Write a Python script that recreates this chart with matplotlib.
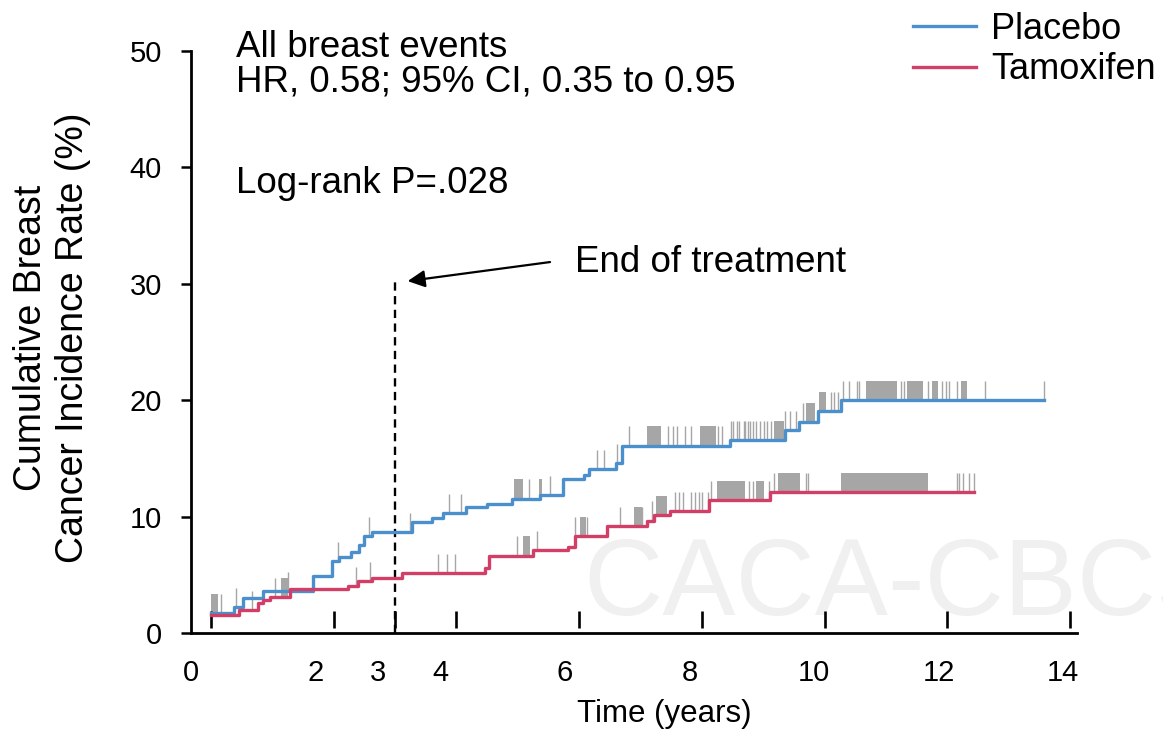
import numpy as np
import matplotlib
matplotlib.use('Agg')
import matplotlib.pyplot as plt
from matplotlib.lines import Line2D

plt.rcParams['font.family'] = ['Liberation Sans', 'DejaVu Sans']

# step curves (time in years, cumulative incidence in %)
placebo_t = [0, 0.37, 0.52, 0.84, 1.66, 1.97, 2.08, 2.28, 2.41, 2.49, 2.62, 3.27, 3.60,
             3.78, 4.16, 4.49, 4.90, 5.36, 5.74, 6.08, 6.16, 6.60, 6.69, 8.45, 9.36,
             9.58, 9.89, 10.27]
placebo_y = [1.7, 2.2, 3.0, 3.6, 4.9, 6.2, 6.5, 7.0, 7.6, 8.3, 8.7, 9.55, 9.85,
             10.3, 10.85, 11.05, 11.55, 11.85, 13.2, 13.6, 14.05, 14.6, 16.1, 16.6, 17.45,
             18.15, 19.05, 20.0]
placebo_end = 13.58

tamox_t = [0, 0.46, 0.76, 0.85, 0.96, 1.29, 2.23, 2.39, 2.63, 3.12, 4.46, 4.53, 5.25,
           5.81, 5.93, 6.46, 7.11, 7.22, 7.48, 8.12, 9.11]
tamox_y = [1.55, 2.0, 2.55, 2.8, 3.1, 3.8, 4.05, 4.45, 4.75, 5.15, 5.55, 6.65, 7.15,
           7.4, 8.3, 9.15, 9.65, 10.1, 10.45, 11.45, 12.1]
tamox_end = 12.43

# censoring marks: single ticks and dense clusters (start, end)
placebo_cens = [0.17, 0.40, 1.26, 2.07, 2.58, 3.24, 3.88, 4.08, 5.18, 5.52, 6.29, 6.40,
                6.61, 6.82, 7.45, 7.53, 7.59, 7.72, 7.83, 8.26, 8.32, 8.47, 8.51, 8.57,
                8.61, 8.68, 8.71, 8.75, 8.78, 8.83, 8.88, 8.94, 9.01, 9.06, 9.12, 9.36,
                9.43, 9.53, 9.64, 10.11, 10.16, 10.22, 10.30, 10.40, 10.52, 10.56, 11.24,
                11.30, 11.69, 11.92, 11.98, 12.03, 12.15, 12.61, 13.58]
placebo_blocks = [(0.0, 0.12), (4.93, 5.08), (5.34, 5.40), (7.10, 7.33), (7.97, 8.23),
                  (9.18, 9.34), (9.70, 9.84), (9.91, 10.02), (10.67, 11.18),
                  (11.34, 11.61), (11.75, 11.84), (12.23, 12.32)]
tamox_cens = [0.66, 1.04, 2.36, 2.59, 3.70, 3.84, 3.97, 4.99, 5.32, 5.93, 6.12, 6.67,
              7.03, 7.18, 7.56, 7.63, 7.70, 7.83, 7.89, 7.95, 8.00, 8.10, 8.15, 8.76,
              8.83, 9.10, 9.17, 9.69, 9.73, 12.15, 12.19, 12.26, 12.35, 12.44]
tamox_blocks = [(1.14, 1.26), (5.09, 5.20), (6.02, 6.11), (6.90, 7.02), (7.25, 7.43),
                (8.24, 8.70), (8.88, 9.01), (9.24, 9.60), (10.27, 11.69)]

xtick_vals = [0, 2, 3, 4, 6, 8, 10, 12, 14]
ytick_vals = [0, 10, 20, 30, 40, 50]
treatment_end = 3

blue = '#4c8fcd'
red = '#d33e67'
grey = '#a6a6a6'
cens_h = 1.65


def level_at(ts, ys, t):
    i = np.searchsorted(ts, t, side='right') - 1
    return np.asarray(ys)[np.clip(i, 0, len(ys) - 1)]


fig = plt.figure(figsize=(11.63, 7.31), dpi=100)
ax = fig.add_axes([191 / 1163, 98 / 731, 886 / 1163, 582 / 731])

# watermark
ax.text(583 / 1163, 116 / 731, 'CACA-CBCS', transform=fig.transFigure, fontsize=79,
        color='#f0f0f0', va='baseline', ha='left', zorder=0, clip_on=False)

for ts, ys, cens, blocks in [(placebo_t, placebo_y, placebo_cens, placebo_blocks),
                             (tamox_t, tamox_y, tamox_cens, tamox_blocks)]:
    lv = level_at(ts, ys, np.array(cens))
    ax.vlines(cens, lv, lv + cens_h, colors=grey, lw=1.0, zorder=1)
    for s, e in blocks:
        b = level_at(ts, ys, s)
        ax.broken_barh([(s, e - s)], (b, cens_h), facecolors=grey, zorder=1)

ax.step(placebo_t + [placebo_end], placebo_y + [placebo_y[-1]], where='post',
        color=blue, lw=2.4, zorder=3, label='Placebo')
ax.step(tamox_t + [tamox_end], tamox_y + [tamox_y[-1]], where='post',
        color=red, lw=2.4, zorder=3, label='Tamoxifen')

# floating x tick marks
ax.vlines(xtick_vals, 0.45, 1.9, colors='black', lw=1.9, zorder=2)

# end of treatment
ax.vlines(treatment_end, 0, 30.3, colors='black', lw=1.7, linestyles=(0, (3.5, 2.3)))
ax.annotate('', xy=(3.16, 30.2), xytext=(5.57, 31.9),
            arrowprops=dict(arrowstyle='-|>', color='black', lw=1.6, mutation_scale=26))
ax.text(5.93, 31.0, 'End of treatment', fontsize=26.5, va='baseline', ha='left')

ax.text(0.41, 49.5, 'All breast events', fontsize=26.5, va='baseline')
ax.text(0.41, 46.5, 'HR, 0.58; 95% CI, 0.35 to 0.95', fontsize=26.5, va='baseline')
ax.text(0.41, 37.8, 'Log-rank P=.028', fontsize=26.5, va='baseline')

ax.set_xlim(-0.326, 14.113)
ax.set_ylim(0, 50)

# labels sit slightly left of the marks
ax.set_xticks([-0.326 + 1.0153 * v for v in xtick_vals])
ax.set_xticklabels([str(v) for v in xtick_vals], fontsize=21)
ax.tick_params(axis='x', length=0, pad=19)
ax.set_yticks(ytick_vals)
ax.set_yticklabels([str(v) for v in ytick_vals], fontsize=21)
ax.tick_params(axis='y', length=7, width=1.8, pad=14)

for s in ['top', 'right']:
    ax.spines[s].set_visible(False)
for s in ['left', 'bottom']:
    ax.spines[s].set_linewidth(2.0)

fig.text(664 / 1163, 1 - 722 / 731, 'Time (years)', fontsize=22.5, ha='center', va='baseline')
fig.text(52 / 1163, 1 - 338 / 731, 'Cumulative Breast\nCancer Incidence Rate (%)',
         fontsize=27, rotation=90, ha='center', va='center', multialignment='center')

handles = [Line2D([], [], color=blue, lw=2.4), Line2D([], [], color=red, lw=2.4)]
ax.legend(handles, ['Placebo', 'Tamoxifen'], loc='upper left',
          bbox_to_anchor=(913 / 1163, 1 - 12 / 731), bbox_transform=fig.transFigure,
          frameon=False, fontsize=26, borderpad=0, borderaxespad=0,
          handlelength=1.75, handletextpad=0.42, labelspacing=0.15)

fig.savefig('out.png', dpi=100)
